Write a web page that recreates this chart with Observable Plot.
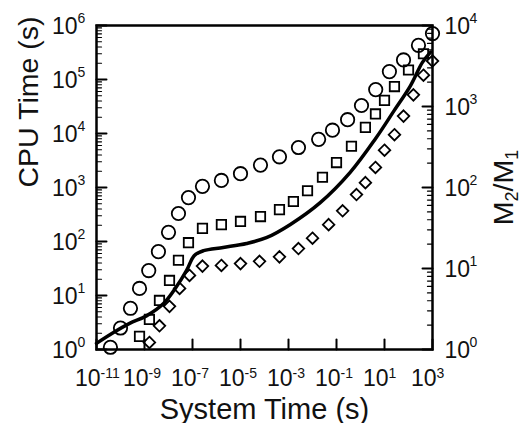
<!DOCTYPE html>
<html><head><meta charset="utf-8">
<script src="https://cdn.jsdelivr.net/npm/d3@7"></script>
<script src="https://cdn.jsdelivr.net/npm/@observablehq/plot@0.6"></script>
<style>body{margin:0;background:#fff}</style>
</head><body><div id="chart"></div>
<script>
// ---- data ----
const circleX = [3.8e-11, 1e-10, 2.6e-10, 6.2e-10, 1.5e-9, 3.8e-9, 1e-8, 2.6e-8, 6.8e-8, 2.6e-7, 1.6e-6, 1e-5, 6.8e-5, 4.2e-4, 2.6e-3, 1.8e-2, 6.8e-2, 0.29, 1.1, 4.3, 16, 62, 260, 1000];
const circleY = [1.1, 2.5, 5.8, 13.5, 29, 65, 148, 330, 650, 1050, 1350, 1800, 2600, 3700, 5500, 7800, 11500, 18000, 33000, 65000, 140000, 230000, 430000, 710000];

const squareX = [6.2e-10, 1.6e-9, 4.2e-9, 1.1e-8, 2.6e-8, 6.8e-8, 2.6e-7, 1.6e-6, 1e-5, 6.8e-5, 4.2e-4, 1.6e-3, 6.2e-3, 2.6e-2, 0.1, 0.42, 1.6, 4.2, 10, 26, 100, 420];
const squareY = [1.75, 3.6, 8.1, 19, 45, 95, 175, 205, 235, 290, 390, 550, 870, 1550, 2900, 5800, 13000, 23000, 41000, 74000, 150000, 300000];

const diamondX = [1.6e-9, 4.2e-9, 1.1e-8, 2.9e-8, 7.5e-8, 2.6e-7, 1.6e-6, 1e-5, 6.2e-5, 4.2e-4, 2.6e-3, 1e-2, 4.7e-2, 0.18, 0.68, 1.6, 4.2, 10, 26, 62, 160, 420, 1000];
const diamondY = [1.35, 2.75, 6.3, 13.5, 23.5, 35, 36, 39, 43, 52, 74, 115, 205, 370, 740, 1230, 2350, 4900, 9500, 21000, 52000, 120000, 220000];

// solid line: M2/M1 (right axis)
const lineX = [1e-11, 5.1e-11, 2.4e-10, 1.2e-9, 6.2e-9, 2.1e-8, 5.6e-8, 1.2e-7, 2.9e-7, 1.9e-6, 1.8e-5, 1.2e-4, 1.2e-3, 2.1e-2, 0.38, 4.2, 24, 120, 380, 830];
const lineRatio = [1.19, 1.62, 2.1, 2.6, 3.7, 5.9, 9.4, 14.5, 16.6, 18.2, 20.4, 24, 35, 65, 155, 400, 870, 1800, 3500, 4700];

const xTickExps = [-11, -9, -7, -5, -3, -1, 1, 3];
const leftTickExps = [0, 1, 2, 3, 4, 5, 6];
const rightTickExps = [0, 1, 2, 3, 4];
const xTitle = "System Time (s)";
const yTitle = "CPU Time (s)";
const rightTitleParts = [["M", false], ["2", true], ["/", false], ["M", false], ["1", true]];

// right axis spans 10^0..10^4 over the same height as the left 10^0..10^6
const toLeft = v => Math.pow(v, 6 / 4);

const zip = (xs, ys) => xs.map((x, i) => ({x, y: ys[i]}));
const circles = zip(circleX, circleY);
const squares = zip(squareX, squareY);
const diamonds = zip(diamondX, diamondY);
const ratioLine = zip(lineX, lineRatio);

const leftMajor = leftTickExps.map(e => 10 ** e);
const leftMinor = [];
for (let e = 0; e < 6; e++) for (let m = 2; m <= 9; m++) leftMinor.push(m * 10 ** e);
const rightMajor = rightTickExps.map(e => 10 ** e);
const rightMinor = [];
for (let e = 0; e < 4; e++) for (let m = 2; m <= 9; m++) rightMinor.push(m * 10 ** e);

const tickShape = {draw(ctx, l) { ctx.moveTo(0, 0); ctx.lineTo(0, -l); }};
const expText = e => (e < 0 ? "-" + Math.abs(e) : String(e));
const FONT = "'Liberation Sans', Arial, Helvetica, sans-serif";

// right title pieces: cumulative advance along the rotated baseline
const mainSize = 28.5, subSize = 18;
const widths = {M: 0.833, "2": 0.556, "1": 0.556, "/": 0.278};
let acc = 0;
const rtPieces = rightTitleParts.map(([t, sub]) => {
  const w = widths[t] * (sub ? subSize : mainSize);
  const p = {t, sub, off: acc};
  acc += w;
  return p;
});
const rtTotal = acc;

const marks = [
  // ticks (inward)
  Plot.vector(leftMajor, {y: d => d, frameAnchor: "left", rotate: 90, length: 10, anchor: "start", shape: tickShape, stroke: "black", strokeWidth: 2}),
  Plot.vector(leftMinor, {y: d => d, frameAnchor: "left", rotate: 90, length: 5, anchor: "start", shape: tickShape, stroke: "black", strokeWidth: 1.2}),
  Plot.vector(rightMajor, {y: d => toLeft(d), frameAnchor: "right", rotate: -90, length: 10, anchor: "start", shape: tickShape, stroke: "black", strokeWidth: 2}),
  Plot.vector(rightMinor, {y: d => toLeft(d), frameAnchor: "right", rotate: -90, length: 5, anchor: "start", shape: tickShape, stroke: "black", strokeWidth: 1.2}),
  Plot.vector(xTickExps, {x: e => 10 ** e, frameAnchor: "bottom", rotate: 0, length: 10, anchor: "start", shape: tickShape, stroke: "black", strokeWidth: 2}),

  // data
  Plot.line(ratioLine, {x: "x", y: d => toLeft(d.y), curve: "catmull-rom", stroke: "black", strokeWidth: 3.5}),
  Plot.dot(circles, {x: "x", y: "y", symbol: "circle", r: 6.7, stroke: "black", strokeWidth: 1.8, fill: "none"}),
  Plot.dot(squares, {x: "x", y: "y", symbol: "square", r: 5.3, stroke: "black", strokeWidth: 1.8, fill: "none"}),
  Plot.dot(diamonds, {x: "x", y: "y", symbol: "diamond2", r: 5.2, stroke: "black", strokeWidth: 1.8, fill: "none"}),

  Plot.frame({stroke: "black", strokeWidth: 2.5}),

  // bottom tick labels
  Plot.text(xTickExps, {x: e => 10 ** e, frameAnchor: "bottom", text: () => "10", textAnchor: "end", lineAnchor: "bottom", dx: 4, dy: 36, fontSize: 23, fill: "#111"}),
  Plot.text(xTickExps, {x: e => 10 ** e, frameAnchor: "bottom", text: expText, textAnchor: "start", lineAnchor: "bottom", dx: 4, dy: 28, fontSize: 14, fill: "#111"}),
  // left tick labels
  Plot.text(leftTickExps, {y: e => 10 ** e, frameAnchor: "left", text: () => "10", textAnchor: "end", lineAnchor: "bottom", dx: -19, dy: 8.5, fontSize: 23, fill: "#111"}),
  Plot.text(leftTickExps, {y: e => 10 ** e, frameAnchor: "left", text: expText, textAnchor: "start", lineAnchor: "bottom", dx: -19, dy: -3, fontSize: 14, fill: "#111"}),
  // right tick labels
  Plot.text(rightTickExps, {y: e => toLeft(10 ** e), frameAnchor: "right", text: () => "10", textAnchor: "start", lineAnchor: "bottom", dx: 12, dy: 8.5, fontSize: 23, fill: "#111"}),
  Plot.text(rightTickExps, {y: e => toLeft(10 ** e), frameAnchor: "right", text: expText, textAnchor: "start", lineAnchor: "bottom", dx: 37, dy: -3, fontSize: 14, fill: "#111"}),

  // titles
  Plot.text([xTitle], {frameAnchor: "bottom", text: d => d, lineAnchor: "bottom", dy: 69, fontSize: 29, fill: "#111"}),
  Plot.text([yTitle], {frameAnchor: "left", text: d => d, rotate: -90, lineAnchor: "bottom", dx: -59, fontSize: 28.5, fill: "#111"}),
  ...rtPieces.map(p => Plot.text([p.t], {
    frameAnchor: "right", text: d => d, rotate: -90, textAnchor: "start", lineAnchor: "bottom",
    dx: 80 + (p.sub ? 5 : 0), dy: rtTotal / 2 - p.off, fontSize: p.sub ? subSize : mainSize, fill: "#111"
  }))
];

const chart = Plot.plot({
  width: 523,
  height: 423,
  marginLeft: 96,
  marginRight: 91,
  marginTop: 25,
  marginBottom: 74,
  x: {type: "log", domain: [1e-11, 1e3], axis: null},
  y: {type: "log", domain: [1, 1e6], axis: null},
  style: {fontFamily: FONT, background: "white", overflow: "visible"},
  marks
});
document.getElementById("chart").appendChild(chart);
</script>
</body></html>
